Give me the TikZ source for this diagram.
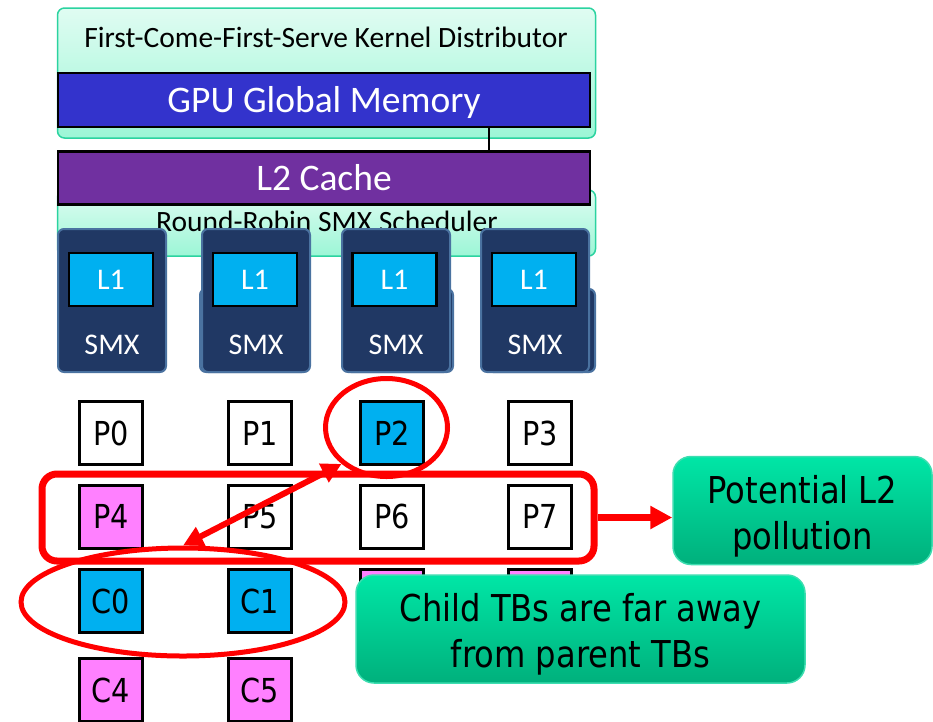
\documentclass[tikz,border=0pt]{standalone}
\usepackage{fontspec}
\setmainfont{Carlito}
\newfontfamily\tahfont[FakeStretch=0.87]{DejaVu Sans}
\usetikzlibrary{arrows.meta,shapes.geometric}
\definecolor{mintline}{HTML}{2BD3A0}
\definecolor{minttop}{HTML}{E0FCF2}
\definecolor{mintbot}{HTML}{9CF6D6}
\definecolor{gmemblue}{HTML}{3333CC}
\definecolor{l2purple}{HTML}{7030A0}
\definecolor{smxnavy}{HTML}{203864}
\definecolor{smxedge}{HTML}{4A72A0}
\definecolor{lonecyan}{HTML}{00B0F0}
\definecolor{tbpink}{HTML}{FF80FF}
\definecolor{calltop}{HTML}{00E6A6}
\definecolor{callbot}{HTML}{00B07C}
\definecolor{calledge}{HTML}{3DDDB0}
\definecolor{redline}{HTML}{FF0000}
\begin{document}
\begin{tikzpicture}[x=1pt,y=-1pt,
 mintbox/.style={draw=mintline,line width=1.5pt,rounded corners=7pt,top color=minttop,bottom color=mintbot,minimum width=538pt,inner sep=0pt},
 barbox/.style={draw=black,line width=2.5pt,minimum width=532pt,inner sep=0pt,text=white,font=\fontsize{37.5}{40}\selectfont,text height=24pt,text depth=0pt},
 smxbox/.style={draw=smxedge,line width=2pt,fill=smxnavy,rounded corners=6pt,minimum width=108pt,minimum height=143pt,inner sep=0pt},
 smxback/.style={smxbox,minimum height=83pt},
 lonebox/.style={draw=black,line width=2.5pt,fill=lonecyan,minimum width=84pt,minimum height=53pt,inner sep=0pt,text=white,font=\fontsize{30}{32}\selectfont},
 smxlabel/.style={text=white,font=\fontsize{30}{32}\selectfont,inner sep=0pt},
 toptext/.style={font=\fontsize{29.5}{32}\selectfont,inner sep=0pt,anchor=base},
 tb/.style={draw=black,line width=3pt,fill=white,minimum size=63pt,inner sep=0pt,font=\tahfont\fontsize{33}{35}\selectfont},
 ring/.style={draw=redline,line width=5pt,fill=none,inner sep=0pt},
 redarrow/.style={draw=redline,line width=6.5pt,-{Triangle[length=22pt,width=22pt]}},
 dblarrow/.style={draw=redline,line width=6pt,{Triangle[length=20pt,width=20pt]}-{Triangle[length=20pt,width=20pt]}},
 callout/.style={draw=calledge,line width=1.5pt,rounded corners=18pt,top color=calltop,bottom color=callbot,inner sep=0pt},
 calltext/.style={font=\tahfont\fontsize{37}{46}\selectfont,align=center,inner sep=0pt}
]
\useasboundingbox (0,0) rectangle (933,721);
\fill[white] (0,0) rectangle (933,721);

% top blocks
\node[mintbox,minimum height=130pt] (dist) at (326.5,73) {};
\node[toptext] (distT) at (326,47) {First-Come-First-Serve Kernel Distributor};
\node[barbox,fill=gmemblue,minimum height=54pt] (gmem) at (324,100) {GPU Global Memory};
\node[mintbox,minimum height=66pt] (rr) at (326.5,223) {};
\node[toptext] (rrT) at (327,231) {Round-Robin SMX Scheduler};
\node[barbox,fill=l2purple,minimum height=53pt] (l2) at (324,178) {L2 Cache};
\coordinate (tapx) at (489,0);
\draw[black,line width=2.5pt] (gmem.south -| tapx) -- (l2.north -| tapx);

% SMX units
\node[smxback] (smxBb) at (254,330.5) {};
\node[smxback] (smxCb) at (399,330.5) {};
\node[smxback] (smxDb) at (541,330.5) {};
\node[smxbox] (smxA) at (112,300.5) {};
\node[smxbox] (smxB) at (256,300.5) {};
\node[smxbox] (smxC) at (396,300.5) {};
\node[smxbox] (smxD) at (535,300.5) {};
\node[lonebox] (lA) at (111,279.5) {L1};
\node[lonebox] (lB) at (255,279.5) {L1};
\node[lonebox] (lC) at (394.5,279.5) {L1};
\node[lonebox] (lD) at (534,279.5) {L1};
\node[smxlabel] (sA) at (112,345) {SMX};
\node[smxlabel] (sB) at (256,345) {SMX};
\node[smxlabel] (sC) at (396,345) {SMX};
\node[smxlabel] (sD) at (535,345) {SMX};

% thread blocks
\node[tb] (P0) at (111,433) {P0};
\node[tb] (P1) at (260,433) {P1};
\node[tb,fill=lonecyan] (P2) at (392,433) {P2};
\node[tb] (P3) at (540,433) {P3};
\node[tb,fill=tbpink] (P4) at (111,516.5) {P4};
\node[tb] (P5) at (260,516.5) {P5};
\node[tb] (P6) at (392,516.5) {P6};
\node[tb] (P7) at (540,516.5) {P7};
\node[tb,fill=lonecyan] (C0) at (111,601) {C0};
\node[tb,fill=lonecyan] (C1) at (260,601) {C1};
\node[tb,fill=tbpink] (C2) at (392,601) {};
\node[tb,fill=tbpink] (C3) at (540,601) {};
\node[tb,fill=tbpink] (C4) at (111,690) {C4};
\node[tb,fill=tbpink] (C5) at (260,690) {C5};

% callouts
\node[callout,minimum width=259pt,minimum height=108pt] (poll) at (802.5,510.5) {};
\node[calltext] (pollT) at (802.5,516) {Potential L2\\pollution};
\node[callout,minimum width=449pt,minimum height=108pt] (child) at (580.5,629) {};
\node[calltext] (childT) at (580.5,634) {Child TBs are far away\\from parent TBs};

% red highlights
\node[ring,ellipse,minimum width=122pt,minimum height=98pt] (p2ring) at (386.5,427.5) {};
\node[ring,line width=7pt,rounded corners=15pt,minimum width=552pt,minimum height=87pt] (rowring) at (318,517.5) {};
\node[ring,ellipse,minimum width=324pt,minimum height=108pt] (childring) at (183,602) {};
\draw[dblarrow] (childring.north) -- (p2ring.south west);
\draw[redarrow] (rowring.east) -- (rowring.east -| poll.west);
\end{tikzpicture}
\end{document}
